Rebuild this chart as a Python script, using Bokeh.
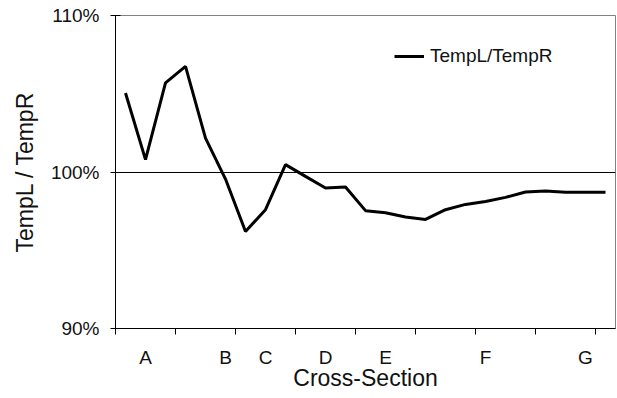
from bokeh.plotting import figure
from bokeh.models import FixedTicker, Range1d, Legend, LegendItem
from bokeh.embed import file_html
from bokeh.resources import INLINE

# ---- data ----
ratio_pct = [105.05, 100.79, 105.69, 106.75, 102.17, 99.55, 96.20, 97.59, 100.47, 99.72,
             98.98, 99.04, 97.53, 97.40, 97.12, 96.97, 97.59, 97.93, 98.12, 98.38,
             98.72, 98.79, 98.71, 98.70, 98.70]
section_labels = ["", "A", "", "", "", "B", "", "C", "", "", "D", "", "", "E", "", "",
                  "", "", "F", "", "", "", "", "G", ""]
y_tick_values = [90, 100, 110]
y_tick_labels = ["90%", "100%", "110%"]
series_name = "TempL/TempR"

n = len(ratio_pct)
xs = [i + 0.5 for i in range(n)]

FONT = "Liberation Sans"

p = figure(width=617, height=398, output_backend="svg", toolbar_location=None,
           x_range=Range1d(0, n), y_range=Range1d(90, 110),
           min_border_left=115, min_border_right=2, min_border_top=15, min_border_bottom=70,
           frame_width=500, frame_height=313)
p.background_fill_color = "white"
p.border_fill_color = "white"
p.outline_line_color = "#808080"
p.outline_line_width = 1

line = p.line(xs, ratio_pct, line_color="black", line_width=3)

# x axis: labels at category centres, ticks at every third boundary
lab_pos = [i + 0.5 for i, s in enumerate(section_labels) if s]
p.xaxis.ticker = FixedTicker(ticks=lab_pos, minor_ticks=list(range(0, n, 3)))
p.xaxis.major_label_overrides = {i + 0.5: s for i, s in enumerate(section_labels) if s}
p.xaxis.major_tick_out = 0
p.xaxis.major_tick_in = 0
p.xaxis.minor_tick_out = 6
p.xaxis.minor_tick_in = 0
p.xaxis.minor_tick_line_color = "black"
p.xaxis.major_label_standoff = 12
p.xaxis.axis_label = "Cross-Section"
p.xaxis.axis_label_standoff = -6

# y axis
p.yaxis.ticker = FixedTicker(ticks=y_tick_values, minor_ticks=[])
p.yaxis.major_label_overrides = dict(zip(y_tick_values, y_tick_labels))
p.yaxis.major_tick_in = 5
p.yaxis.major_tick_out = 5
p.yaxis.major_label_standoff = 11
p.yaxis.axis_label = "TempL / TempR"
p.yaxis.axis_label_standoff = 10

for ax in (p.xaxis[0], p.yaxis[0]):
    ax.axis_line_color = "black"
    ax.major_tick_line_color = "black"
    ax.major_label_text_font = FONT
    ax.major_label_text_font_size = "19px"
    ax.major_label_text_color = "#111111"
    ax.axis_label_text_font = FONT
    ax.axis_label_text_font_size = "23px"
    ax.axis_label_text_font_style = "normal"
    ax.axis_label_text_color = "#111111"

p.xgrid.visible = False
p.ygrid.ticker = FixedTicker(ticks=[100])
p.ygrid.grid_line_color = "black"
p.ygrid.grid_line_width = 1

legend = Legend(items=[LegendItem(label=series_name, renderers=[line])],
                location=(279, 261), padding=0, margin=0,
                glyph_width=30, glyph_height=20, label_height=20, label_standoff=6,
                label_text_font=FONT, label_text_font_size="19px",
                label_text_color="#111111",
                border_line_color=None, background_fill_alpha=0)
p.add_layout(legend, "center")

open("out.html", "w").write(file_html(p, INLINE))
